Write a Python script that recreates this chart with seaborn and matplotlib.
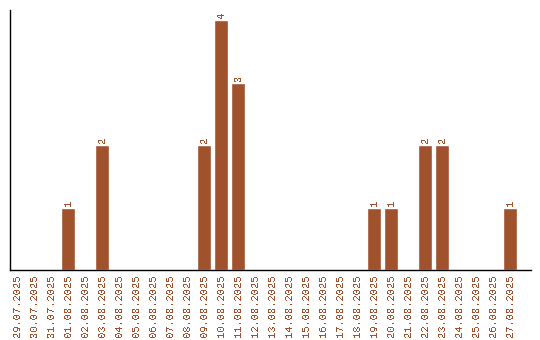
import matplotlib
matplotlib.use("Agg")
import matplotlib.pyplot as plt
import seaborn as sns
import pandas as pd

dates = ["29.07.2025", "30.07.2025", "31.07.2025", "01.08.2025", "02.08.2025",
         "03.08.2025", "04.08.2025", "05.08.2025", "06.08.2025", "07.08.2025",
         "08.08.2025", "09.08.2025", "10.08.2025", "11.08.2025", "12.08.2025",
         "13.08.2025", "14.08.2025", "15.08.2025", "16.08.2025", "17.08.2025",
         "18.08.2025", "19.08.2025", "20.08.2025", "21.08.2025", "22.08.2025",
         "23.08.2025", "24.08.2025", "25.08.2025", "26.08.2025", "27.08.2025"]
counts = [0, 0, 0, 1, 0, 2, 0, 0, 0, 0, 0, 2, 4, 3, 0,
          0, 0, 0, 0, 0, 0, 1, 1, 0, 2, 2, 0, 0, 0, 1]

df = pd.DataFrame({"date": dates, "count": counts})

sns.set_style("white")
plt.rcParams["font.family"] = ["Liberation Mono", "DejaVu Sans Mono"]
plt.rcParams["text.antialiased"] = False

color = "#A0522D"
fig = plt.figure(figsize=(5.4, 3.4), dpi=100)
ax = fig.add_axes([10/540, 70/340, 521/540, 260/340])
sns.barplot(data=df, x="date", y="count", color=color, width=0.82,
            saturation=1, ax=ax)

for i, v in enumerate(counts):
    if v > 0:
        ax.text(i, v + 0.03, str(v), rotation=90, ha="center", va="bottom",
                color=color, fontsize=7.5)

ax.set_xlim(-0.41, 30.24)
ax.set_ylim(0, 4.16)
ax.set_xlabel("")
ax.set_ylabel("")
ax.set_yticks([])
ax.tick_params(axis="x", length=0, pad=3, labelcolor=color, labelsize=7.5,
               rotation=90)
for s in ["top", "right"]:
    ax.spines[s].set_visible(False)
for s in ["left", "bottom"]:
    ax.spines[s].set_color("black")
    ax.spines[s].set_linewidth(1)

fig.savefig("out.png", dpi=100)
